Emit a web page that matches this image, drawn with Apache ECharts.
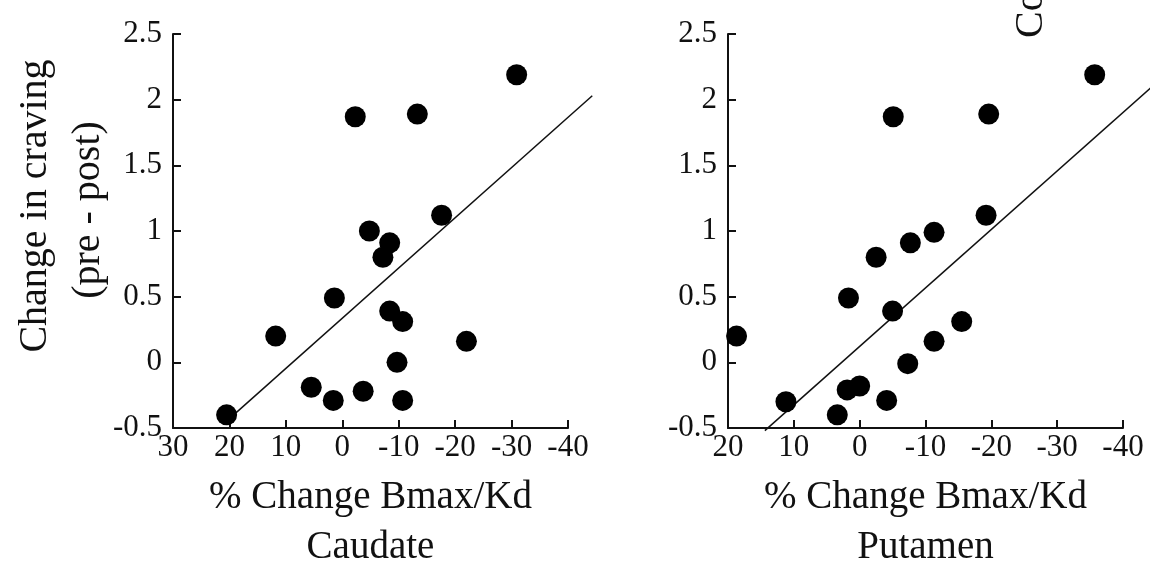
<!DOCTYPE html>
<html>
<head>
<meta charset="utf-8">
<script src="https://cdn.jsdelivr.net/npm/echarts@6/dist/echarts.min.js"></script>
<style>
html,body{margin:0;padding:0;background:#fff;}
#chart{width:1150px;height:566px;}
</style>
</head>
<body>
<div id="chart"></div>
<script>
// Caudate panel
const caudateX = [20.5, 11.8, 5.5, 1.6, 1.4, -2.3, -3.7, -4.8, -7.2, -8.4, -8.4, -10.7, -9.7, -10.7, -13.3, -17.6, -22.0, -30.9];
const caudateY = [-0.40, 0.20, -0.19, -0.29, 0.49, 1.87, -0.22, 1.00, 0.80, 0.91, 0.39, 0.31, 0.00, -0.29, 1.89, 1.12, 0.16, 2.19];
const caudateLineX = [19.5, -44.3];
const caudateLineY = [-0.41, 2.03];

// Putamen panel
const putamenX = [18.7, 11.2, 3.4, 1.9, 0.0, 1.7, -2.5, -4.1, -5.0, -5.1, -7.3, -7.7, -11.3, -11.3, -15.5, -19.2, -19.6, -35.7];
const putamenY = [0.20, -0.30, -0.40, -0.21, -0.18, 0.49, 0.80, -0.29, 0.39, 1.87, -0.01, 0.91, 0.99, 0.16, 0.31, 1.12, 1.89, 2.19];
const putamenLineX = [14.4, -44.2];
const putamenLineY = [-0.52, 2.09];

const yTicks = [-0.5, 0, 0.5, 1, 1.5, 2, 2.5];
const xTitle = '% Change Bmax/Kd';
const panelNames = ['Caudate', 'Putamen'];
const yTitle1 = 'Change in craving';
const yTitle2 = '(pre - post)';

const FONT = '"Liberation Serif", "Times New Roman", serif';
const INK = '#111111';

function pairs(xs, ys){ return xs.map((x,i)=>[x, ys[i]]); }

function xAxis(idx, min, max, name){
  return {
    gridIndex: idx, type: 'value', inverse: true, min: min, max: max, interval: 10,
    axisLine: {show: true, onZero: false, lineStyle: {color: INK, width: 2}},
    axisTick: {show: true, inside: true, length: 8, lineStyle: {color: INK, width: 2}},
    axisLabel: {fontFamily: FONT, fontSize: 31, color: INK, margin: 4},
    splitLine: {show: false},
    name: xTitle + '\n' + name, nameLocation: 'middle', nameGap: 45,
    nameTextStyle: {fontFamily: FONT, fontSize: 39, lineHeight: 50, color: INK}
  };
}
function yAxis(idx){
  return {
    gridIndex: idx, type: 'value', min: yTicks[0], max: yTicks[yTicks.length-1], interval: 0.5,
    axisLine: {show: true, onZero: false, lineStyle: {color: INK, width: 2}},
    axisTick: {show: true, inside: true, length: 8, lineStyle: {color: INK, width: 2}},
    axisLabel: {fontFamily: FONT, fontSize: 31, color: INK, margin: 11},
    splitLine: {show: false}
  };
}

const chart = echarts.init(document.getElementById('chart'), null, {renderer: 'canvas'});
chart.setOption({
  backgroundColor: '#ffffff',
  animation: false,
  grid: [
    {left: 173, right: 582, top: 34, bottom: 138, containLabel: false, outerBoundsMode: 'none'},
    {left: 728, right: 27, top: 34, bottom: 138, containLabel: false, outerBoundsMode: 'none'}
  ],
  xAxis: [xAxis(0, -40, 30, panelNames[0]), xAxis(1, -40, 20, panelNames[1])],
  yAxis: [yAxis(0), yAxis(1)],
  graphic: [
    {id: 'yt1', type: 'text', x: 35, y: 206, rotation: Math.PI/2,
     style: {text: yTitle1, font: '40px ' + FONT, fill: INK, align: 'center', verticalAlign: 'middle'}},
    {id: 'yt2', type: 'text', x: 88, y: 210, rotation: Math.PI/2,
     style: {text: yTitle2, font: '40px ' + FONT, fill: INK, align: 'center', verticalAlign: 'middle'}},
    {id: 'frag', type: 'text', x: 1031, y: 38, rotation: Math.PI/2,
     style: {text: 'Co', font: '40px ' + FONT, fill: INK, align: 'left', verticalAlign: 'middle'}}
  ],
  series: [
    {type: 'scatter', xAxisIndex: 0, yAxisIndex: 0, data: pairs(caudateX, caudateY),
     symbol: 'circle', symbolSize: 21, itemStyle: {color: '#000', opacity: 1}, clip: false, z: 3},
    {type: 'scatter', xAxisIndex: 1, yAxisIndex: 1, data: pairs(putamenX, putamenY),
     symbol: 'circle', symbolSize: 21, itemStyle: {color: '#000', opacity: 1}, clip: false, z: 3}
  ]
});

// Fit lines extend past the axis end, so draw them with the chart's own scales (convertToPixel)
function fitLine(id, gridIndex, xs, ys){
  const pts = xs.map((x,i)=>chart.convertToPixel({gridIndex: gridIndex}, [x, ys[i]]));
  return {id: id, type: 'polyline', z: 2, silent: true,
          shape: {points: pts}, style: {stroke: INK, lineWidth: 1.5, fill: null}};
}
chart.setOption({
  graphic: [
    fitLine('fit0', 0, caudateLineX, caudateLineY),
    fitLine('fit1', 1, putamenLineX, putamenLineY)
  ]
});
</script>
</body>
</html>
